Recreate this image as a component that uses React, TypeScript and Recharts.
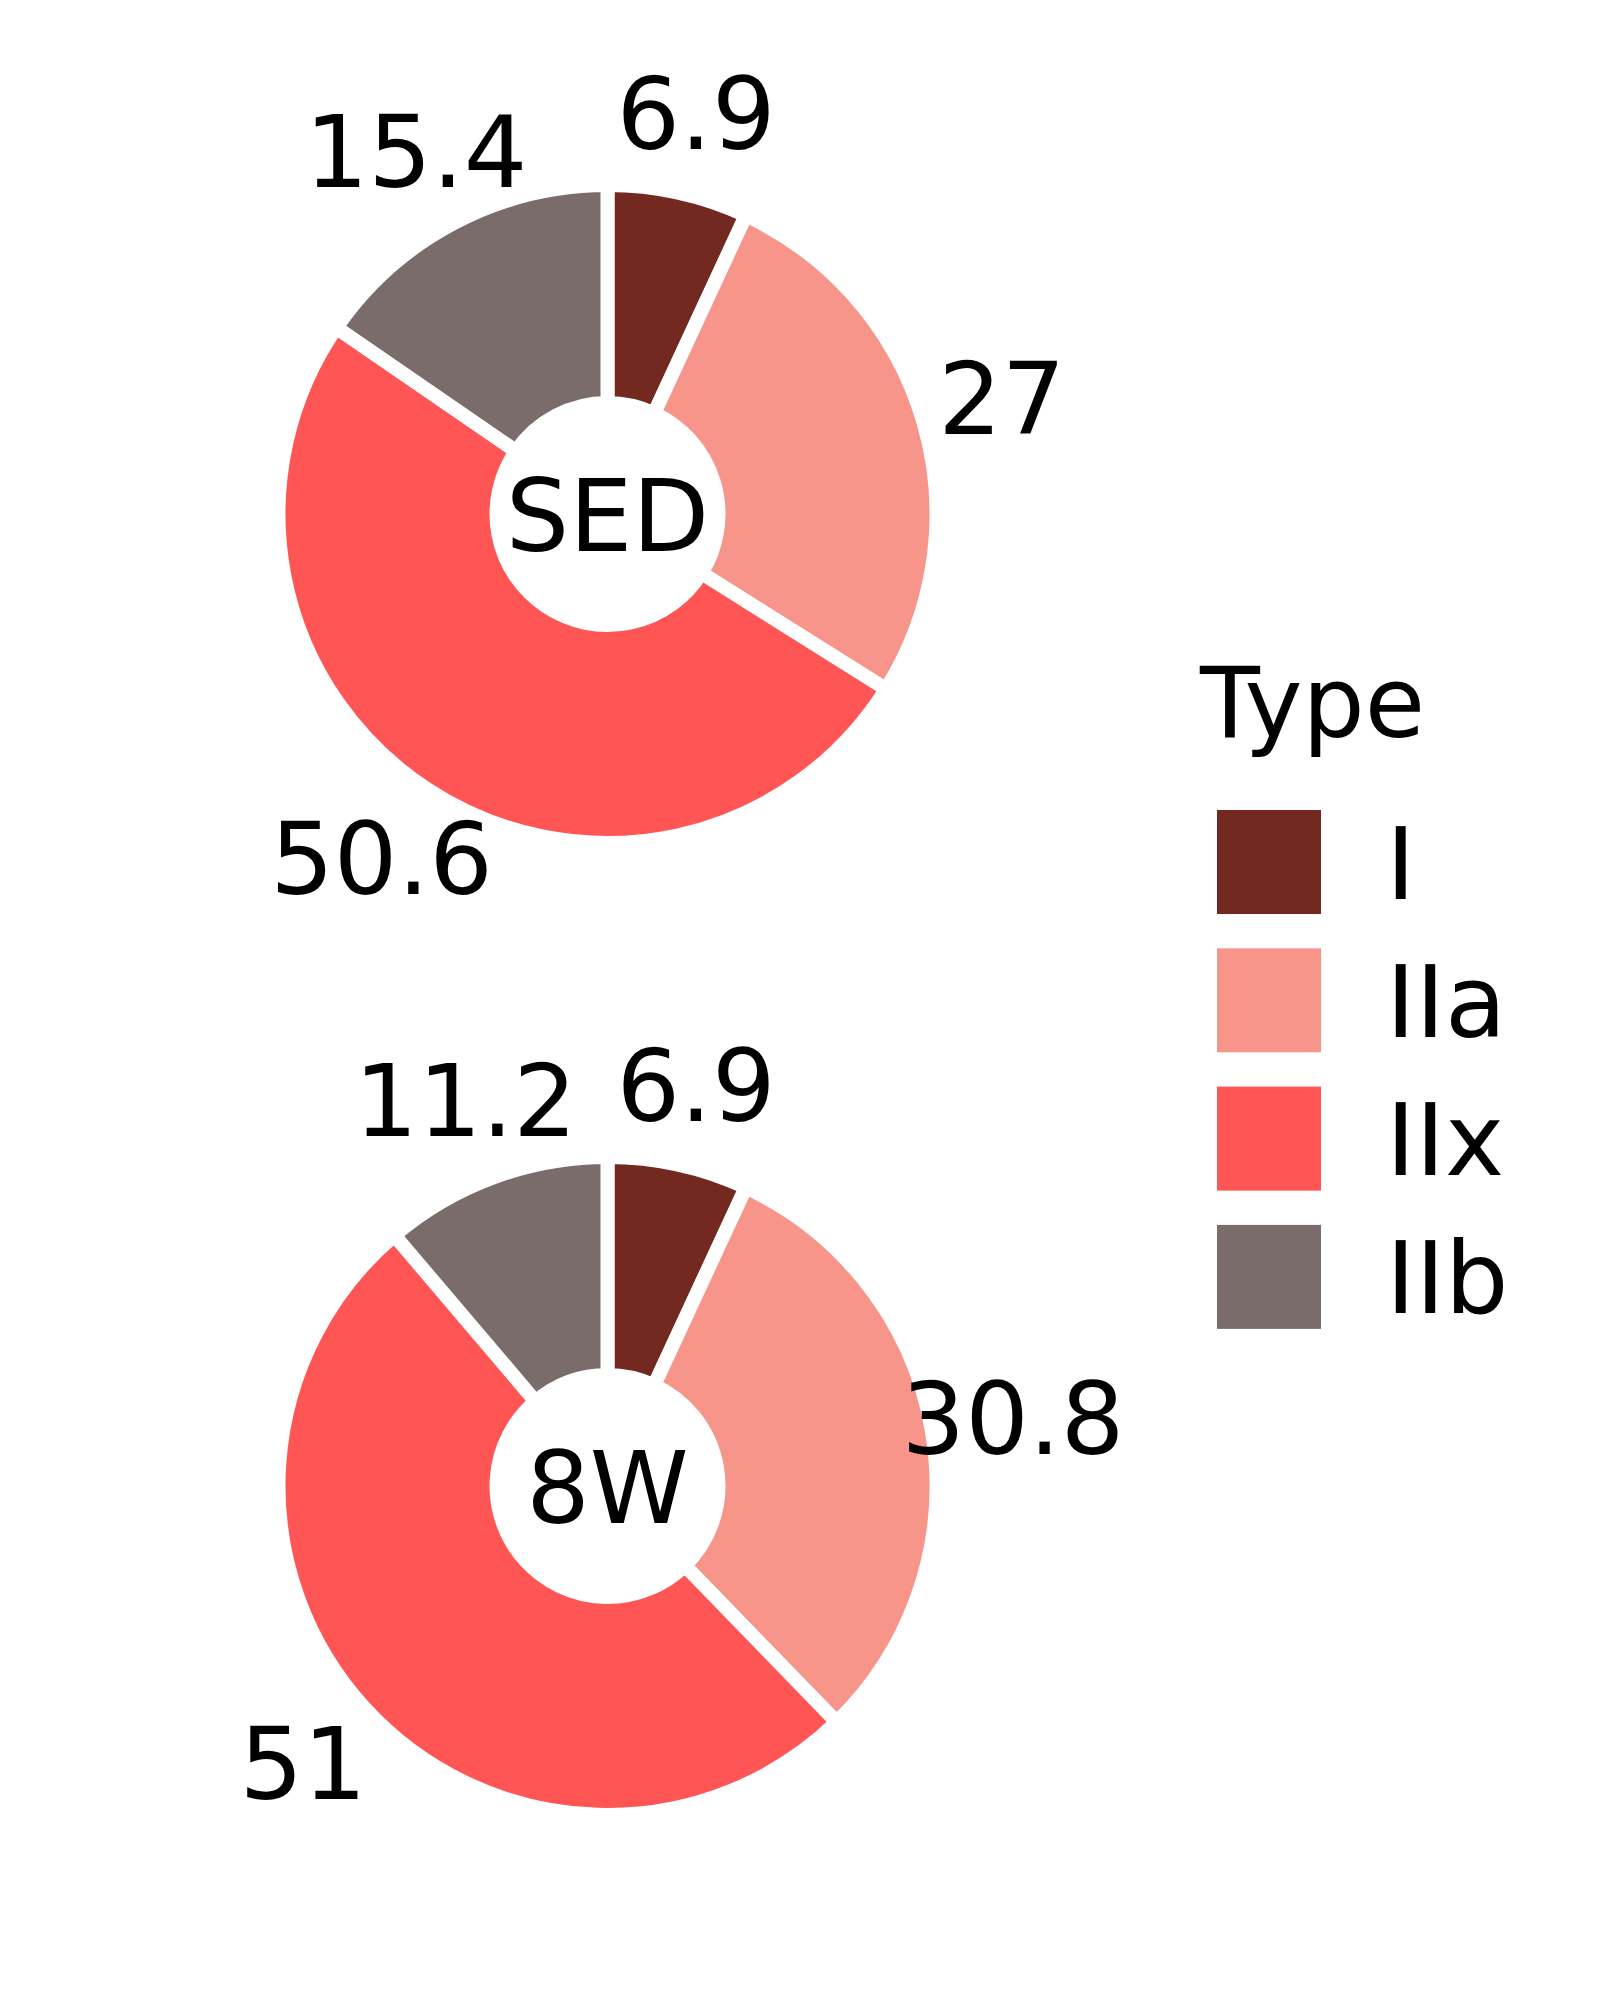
import { PieChart, Pie, Cell } from 'recharts';

// Fibre type composition (%) per group
const types = ['I', 'IIa', 'IIx', 'IIb'];
const colors = ['#73291f', '#f7958a', '#ff5555', '#7a6c6a'];
const groups = ['SED', '8W'];
const sedValues = [6.9, 27, 50.6, 15.4];
const w8Values = [6.9, 30.8, 51, 11.2];

const sedData = types.map((t, i) => ({ name: t, value: sedValues[i] }));
const w8Data = types.map((t, i) => ({ name: t, value: w8Values[i] }));

const FONT = '"DejaVu Sans", Verdana, sans-serif';
const RAD = Math.PI / 180;
const CX = 607.5;
const CYS = [514, 1486];
const OUTER = 329;
const INNER = 111;
const LABEL_R = OUTER * 1.25;

const renderLabel = (props: any) => {
  const { cx, cy, midAngle, value } = props;
  const x = cx + LABEL_R * Math.cos(-midAngle * RAD);
  const y = cy + LABEL_R * Math.sin(-midAngle * RAD);
  return (
    <text x={x} y={y + 36.5} textAnchor="middle" fontSize={100} fontFamily={FONT} fill="#000">
      {String(value)}
    </text>
  );
};

// group names in the holes + the "Type" legend
const Overlay = () => (
  <svg
    width={1600}
    height={2000}
    style={{ position: 'absolute', left: 0, top: 0, pointerEvents: 'none' }}
  >
    {groups.map((g, i) => (
      <text key={g} x={CX} y={CYS[i] + 36.5} textAnchor="middle" fontSize={100} fontFamily={FONT} fill="#000">
        {g}
      </text>
    ))}
    <text x={1200} y={737} fontSize={98} fontFamily={FONT} fill="#000">
      Type
    </text>
    {types.map((t, i) => (
      <g key={t}>
        <rect x={1217} y={810 + i * 138.3} width={104} height={104} fill={colors[i]} />
        <text x={1386} y={810 + i * 138.3 + 52 + 36.5} fontSize={100} fontFamily={FONT} fill="#000">
          {t}
        </text>
      </g>
    ))}
  </svg>
);

export default function App() {
  return (
    <div style={{ position: 'absolute', left: 0, top: 0, width: 1600, height: 2000, background: '#fff' }}>
      <PieChart width={1600} height={2000} margin={{ top: 0, right: 0, bottom: 0, left: 0 }}>
        <Pie
          data={sedData}
          dataKey="value"
          cx={CX}
          cy={CYS[0]}
          innerRadius={INNER}
          outerRadius={OUTER}
          startAngle={90}
          endAngle={-270}
          stroke="#fff"
          strokeWidth={14}
          label={renderLabel}
          labelLine={false}
          isAnimationActive={false}
        >
          {sedData.map((d, i) => (
            <Cell key={d.name} fill={colors[i]} />
          ))}
        </Pie>
        <Pie
          data={w8Data}
          dataKey="value"
          cx={CX}
          cy={CYS[1]}
          innerRadius={INNER}
          outerRadius={OUTER}
          startAngle={90}
          endAngle={-270}
          stroke="#fff"
          strokeWidth={14}
          label={renderLabel}
          labelLine={false}
          isAnimationActive={false}
        >
          {w8Data.map((d, i) => (
            <Cell key={d.name} fill={colors[i]} />
          ))}
        </Pie>
      </PieChart>
      <Overlay />
    </div>
  );
}
